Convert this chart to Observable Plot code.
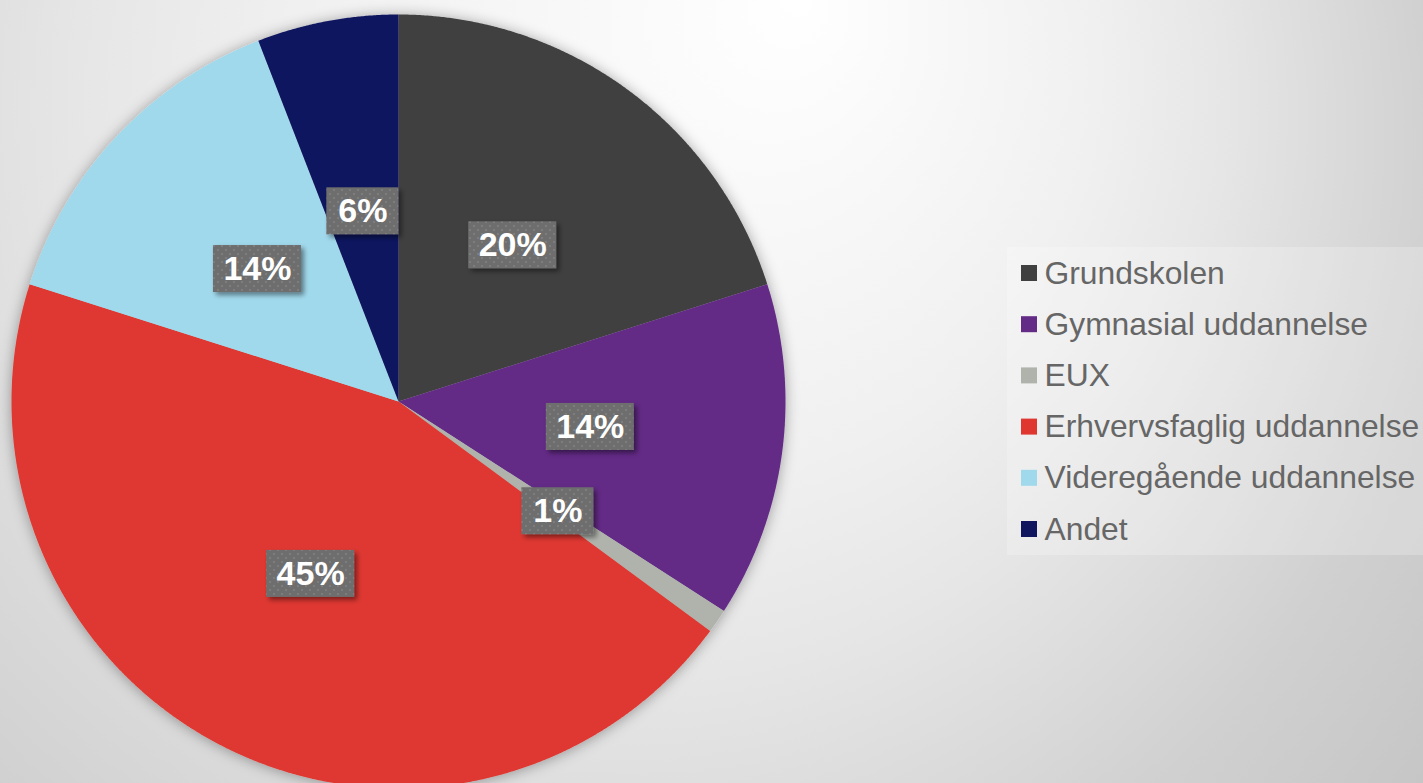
<!DOCTYPE html>
<html><head><meta charset="utf-8">
<script src="https://cdn.jsdelivr.net/npm/d3@7"></script>
<script src="https://cdn.jsdelivr.net/npm/@observablehq/plot@0.6"></script>
<style>html,body{margin:0;padding:0;overflow:hidden;background:#e0e0e0}</style>
</head><body><div id="chart"></div>
<script>
const categories = ["Grundskolen","Gymnasial uddannelse","EUX","Erhvervsfaglig uddannelse","Videregående uddannelse","Andet"];
const shares = [20.1, 14.0, 1.0, 44.8, 14.2, 5.9];
const labels = ["20%","14%","1%","45%","14%","6%"];
const colors = ["#404040","#632b86","#afb3ac","#df3730","#a1d9ec","#10165e"];

const W = 1423, H = 783;
const cx = 398, cy = 401, R = 387;
const arcs = d3.pie().value(d => d).sort(null)(shares);

const slicePts = [];
arcs.forEach((a, i) => {
  const name = categories[i];
  slicePts.push({name, x: cx, y: cy});
  const n = Math.max(4, Math.ceil((a.endAngle - a.startAngle) / 0.004));
  for (let k = 0; k <= n; k++) {
    const t = a.startAngle + (a.endAngle - a.startAngle) * k / n;
    slicePts.push({name, x: cx + R * Math.sin(t), y: cy - R * Math.cos(t)});
  }
  slicePts.push({name, x: cx, y: cy});
});

const labelData = arcs.map((a, i) => {
  const m = (a.startAngle + a.endAngle) / 2;
  const w = labels[i].length > 2 ? 88 : 72;
  return {label: labels[i], x: cx + R * 0.5 * Math.sin(m), y: cy - R * 0.5 * Math.cos(m), w, h: 47};
});

const legX = 1021, legY0 = 273, legDY = 51.2, sq = 16;
const legendData = categories.map((c, i) => ({name: c, y: legY0 + i * legDY}));

const chart = Plot.plot({
  width: W, height: H, margin: 0,
  x: {domain: [0, W], range: [0, W], axis: null},
  y: {domain: [0, H], range: [0, H], axis: null},
  color: {domain: categories, range: colors},
  style: {fontFamily: "'Liberation Sans', Arial, sans-serif", background: "transparent"},
  marks: [
    Plot.line(slicePts, {x: "x", y: "y", z: "name", fill: "name", stroke: "none"}),
    Plot.rect(labelData, {x1: d => d.x - d.w / 2, x2: d => d.x + d.w / 2, y1: d => d.y - d.h / 2, y2: d => d.y + d.h / 2, fill: "#6e6e6e"}),
    Plot.text(labelData, {x: "x", y: "y", text: "label", fill: "white", fontSize: 34, fontWeight: "bold"}),
    Plot.rect([0], {x1: legX - 14, x2: W, y1: legY0 - 26, y2: legY0 + 5 * legDY + 26, fill: "#ffffff", fillOpacity: 0.22}),
    Plot.rect(legendData, {x1: legX, x2: legX + sq, y1: d => d.y - sq / 2, y2: d => d.y + sq / 2, fill: "name"}),
    Plot.text(legendData, {x: legX + sq + 7, y: "y", text: "name", textAnchor: "start", fill: "#666666", fontSize: 31.8})
  ]
});
document.getElementById("chart").appendChild(chart);

const svg = d3.select(chart);
svg.insert("rect", ":first-child").attr("width", W).attr("height", H).attr("fill", "url(#bg)");
const defs = svg.insert("defs", ":first-child");
const grad = defs.append("radialGradient").attr("id", "bg").attr("gradientUnits", "userSpaceOnUse")
  .attr("cx", 500).attr("cy", 200).attr("r", 1150).attr("fx", 800).attr("fy", 0);
[[0, "#ffffff"], [0.35, "#f0f0f0"], [0.5, "#e6e6e6"], [0.75, "#d0d0d0"], [1, "#c3c3c3"]]
  .forEach(([o, c]) => grad.append("stop").attr("offset", o).attr("stop-color", c));
const pat = defs.append("pattern").attr("id", "dots").attr("width", 8).attr("height", 8).attr("patternUnits", "userSpaceOnUse");
pat.append("rect").attr("width", 8).attr("height", 8).attr("fill", "#6e6e6e");
pat.append("rect").attr("x", 1).attr("y", 1).attr("width", 2).attr("height", 2).attr("fill", "#7d7d7d");
pat.append("rect").attr("x", 5).attr("y", 5).attr("width", 2).attr("height", 2).attr("fill", "#7d7d7d");
const f1 = defs.append("filter").attr("id", "pieShadow").attr("x", "-10%").attr("y", "-10%").attr("width", "120%").attr("height", "120%");
f1.append("feDropShadow").attr("dx", 0).attr("dy", 1).attr("stdDeviation", 7).attr("flood-color", "#000").attr("flood-opacity", 0.35);
const f2 = defs.append("filter").attr("id", "boxShadow").attr("x", "-20%").attr("y", "-30%").attr("width", "150%").attr("height", "170%");
f2.append("feDropShadow").attr("dx", 3).attr("dy", 3).attr("stdDeviation", 2.5).attr("flood-color", "#000").attr("flood-opacity", 0.45);

svg.select('g[aria-label="line"]').attr("filter", "url(#pieShadow)");
const rects = svg.selectAll('g[aria-label="rect"]').nodes();
d3.select(rects[0]).attr("fill", "url(#dots)").attr("filter", "url(#boxShadow)");
</script></body></html>
